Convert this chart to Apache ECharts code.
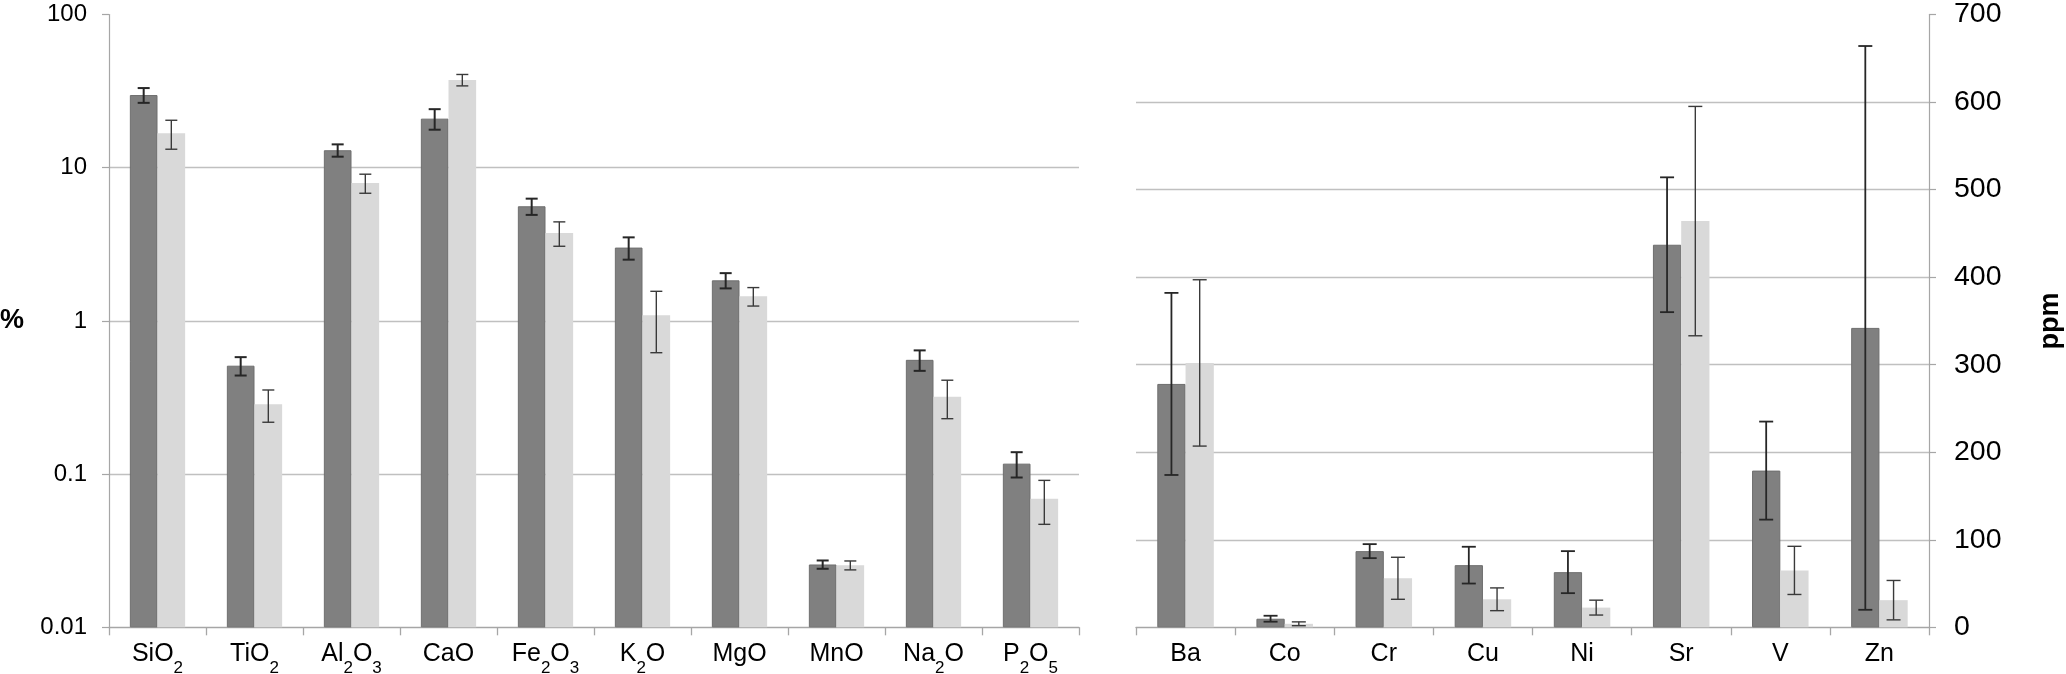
<!DOCTYPE html>
<html>
<head>
<meta charset="utf-8">
<script src="https://cdn.jsdelivr.net/npm/echarts@6/dist/echarts.min.js"></script>
<style>
html,body{margin:0;padding:0;background:#fff;}
#chart{width:2066px;height:674px;}
</style>
</head>
<body>
<div id="chart"></div>
<script>
// ---- data ----
const majorCats = ['SiO2', 'TiO2', 'Al2O3', 'CaO', 'Fe2O3', 'K2O', 'MgO', 'MnO', 'Na2O', 'P2O5'];
const majorDark = [29.8, 0.51, 13.0, 20.9, 5.6, 3.01, 1.84, 0.0257, 0.557, 0.117];
const majorDarkSd = [3.3, 0.07, 1.2, 3.2, 0.68, 0.5, 0.21, 0.0016, 0.085, 0.022];
const majorLight = [16.8, 0.286, 7.94, 37.4, 3.75, 1.09, 1.45, 0.0254, 0.32, 0.069];
const majorLightSd = [3.6, 0.068, 1.13, 3.2, 0.68, 0.47, 0.2, 0.0017, 0.09, 0.022];

const traceCats = ['Ba', 'Co', 'Cr', 'Cu', 'Ni', 'Sr', 'V', 'Zn'];
const traceDark = [278, 9.8, 87, 71, 63, 437, 179, 342];
const traceDarkSd = [104, 3.4, 8, 21, 24, 77, 56, 322];
const traceLight = [302, 4, 56, 32, 22.5, 464, 65, 31];
const traceLightSd = [95, 2.2, 24, 13, 8.5, 131, 27.5, 22.5];

const leftTicks = [0.01, 0.1, 1, 10, 100];
const rightTicks = [0, 100, 200, 300, 400, 500, 600, 700];

// ---- styling ----
const FONT = "'Liberation Sans', Arial, sans-serif";
const DARK = '#808080';
const LIGHT = '#d9d9d9';
const GRIDC = '#c0c0c0';
const AXISC = '#a6a6a6';
const GAP = 0.43;

const chart = echarts.init(document.getElementById('chart'), null, {renderer: 'canvas'});

function subFormatter(name) {
  return '{n|' + name.replace(/(\d)/g, '}{s|$1}{n|') + '}';
}

const catLabel = {
  interval: 0,
  margin: 14,
  color: '#000',
  fontFamily: FONT,
  fontSize: 25,
  formatter: subFormatter,
  rich: {
    n: {fontFamily: FONT, fontSize: 25, lineHeight: 26, verticalAlign: 'top', color: '#000'},
    s: {fontFamily: FONT, fontSize: 17, lineHeight: 17, padding: [19, 0, 0, 0], verticalAlign: 'top', color: '#000'}
  }
};

function errSeries(name, xi, yi, cats, means, sds, sign, capW, lw, color) {
  return {
    name: name,
    type: 'custom',
    xAxisIndex: xi,
    yAxisIndex: yi,
    z: 10,
    silent: true,
    data: cats.map((c, i) => [i, means[i], sds[i]]),
    encode: {x: 0, y: 1},
    renderItem: function (params, api) {
      const i = api.value(0), m = api.value(1), s = api.value(2);
      const p0 = api.coord([i, m]);
      const p1 = api.coord([i + 1, m]);
      const band = p1[0] - p0[0];
      const bw = band * (1 - GAP) / 2;
      const x = p0[0] + sign * bw / 2;
      const yt = api.coord([i, m + s])[1];
      const yb = api.coord([i, m - s])[1];
      const st = {stroke: color, lineWidth: lw};
      return {
        type: 'group',
        children: [
          {type: 'line', shape: {x1: x, y1: yt, x2: x, y2: yb}, style: st},
          {type: 'line', shape: {x1: x - capW / 2, y1: yt, x2: x + capW / 2, y2: yt}, style: st},
          {type: 'line', shape: {x1: x - capW / 2, y1: yb, x2: x + capW / 2, y2: yb}, style: st}
        ]
      };
    }
  };
}

const option = {
  backgroundColor: '#fff',
  animation: false,
  grid: [
    {left: 109, right: 987, top: 14.5, bottom: 46.7, containLabel: false, outerBoundsMode: 'none'},
    {left: 1136, right: 137, top: 14.5, bottom: 46.7, containLabel: false, outerBoundsMode: 'none'}
  ],
  xAxis: [
    {
      type: 'category', gridIndex: 0, data: majorCats,
      axisLine: {show: true, lineStyle: {color: AXISC, width: 1.3}},
      axisTick: {show: true, length: 8, lineStyle: {color: AXISC, width: 1.3}},
      axisLabel: catLabel,
      splitLine: {show: false}
    },
    {
      type: 'category', gridIndex: 1, data: traceCats,
      axisLine: {show: true, lineStyle: {color: AXISC, width: 1.3}},
      axisTick: {show: true, length: 8, lineStyle: {color: AXISC, width: 1.3}},
      axisLabel: catLabel,
      splitLine: {show: false}
    }
  ],
  yAxis: [
    {
      type: 'log', gridIndex: 0, logBase: 10, min: leftTicks[0], max: leftTicks[leftTicks.length - 1],
      startValue: leftTicks[0],
      position: 'left',
      name: '%', nameLocation: 'middle', nameRotate: 0, nameGap: 85,
      nameTextStyle: {fontFamily: FONT, fontSize: 27, fontWeight: 'bold', color: '#000'},
      axisLine: {show: true, lineStyle: {color: AXISC, width: 1.2}},
      axisTick: {show: true, length: 7, lineStyle: {color: AXISC, width: 1.2}},
      minorTick: {show: false},
      axisLabel: {
        margin: 22, color: '#000', fontFamily: FONT, fontSize: 24,
        formatter: v => {
          const t = leftTicks.find(t => Math.abs(Math.log10(t) - Math.log10(v)) < 1e-6);
          return t === undefined ? '' : String(t);
        }
      },
      splitLine: {show: true, showMinLine: false, showMaxLine: false, lineStyle: {color: GRIDC, width: 1.3}}
    },
    {
      type: 'value', gridIndex: 1, min: rightTicks[0], max: rightTicks[rightTicks.length - 1], interval: 100,
      position: 'right',
      name: 'ppm', nameLocation: 'middle', nameRotate: 90, nameGap: 108,
      nameTextStyle: {fontFamily: FONT, fontSize: 27, fontWeight: 'bold', color: '#000'},
      axisLine: {show: true, lineStyle: {color: AXISC, width: 1.2}},
      axisTick: {show: true, length: 7, lineStyle: {color: AXISC, width: 1.2}},
      axisLabel: {margin: 25, color: '#000', fontFamily: FONT, fontSize: 28.5},
      splitLine: {show: true, showMinLine: false, showMaxLine: false, lineStyle: {color: GRIDC, width: 1.3}}
    }
  ],
  series: [
    {
      name: 'Series 1', type: 'bar', xAxisIndex: 0, yAxisIndex: 0, data: majorDark,
      barGap: '0%', barCategoryGap: (GAP * 100) + '%',
      itemStyle: {color: DARK, borderColor: '#6e6e6e', borderWidth: 1}
    },
    {
      name: 'Series 2', type: 'bar', xAxisIndex: 0, yAxisIndex: 0, data: majorLight,
      barGap: '0%', barCategoryGap: (GAP * 100) + '%',
      itemStyle: {color: LIGHT}
    },
    {
      name: 'Series 1', type: 'bar', xAxisIndex: 1, yAxisIndex: 1, data: traceDark,
      barGap: '0%', barCategoryGap: (GAP * 100) + '%',
      itemStyle: {color: DARK, borderColor: '#6e6e6e', borderWidth: 1}
    },
    {
      name: 'Series 2', type: 'bar', xAxisIndex: 1, yAxisIndex: 1, data: traceLight,
      barGap: '0%', barCategoryGap: (GAP * 100) + '%',
      itemStyle: {color: LIGHT}
    },
    errSeries('err1', 0, 0, majorCats, majorDark, majorDarkSd, -1, 12, 2, '#262626'),
    errSeries('err2', 0, 0, majorCats, majorLight, majorLightSd, 1, 12, 1.4, '#3a3a3a'),
    errSeries('err3', 1, 1, traceCats, traceDark, traceDarkSd, -1, 14, 1.8, '#262626'),
    errSeries('err4', 1, 1, traceCats, traceLight, traceLightSd, 1, 14, 1.4, '#3a3a3a')
  ]
};

chart.setOption(option);
</script>
</body>
</html>
